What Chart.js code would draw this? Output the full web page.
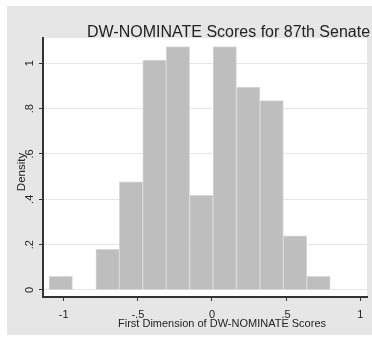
<!DOCTYPE html>
<html>
<head>
<meta charset="utf-8">
<script src="https://cdn.jsdelivr.net/npm/chart.js@4/dist/chart.umd.min.js"></script>
<style>
  html, body { margin: 0; padding: 0; background: #ffffff; }
  #wrap { position: relative; width: 372px; height: 340px; }
  #panel { position: absolute; left: 7px; top: 6px; width: 365px; height: 329px; background: #e6e6e6; }
  #c { position: absolute; left: 0; top: 0; }
</style>
</head>
<body>
<div id="wrap">
  <div id="panel"></div>
  <canvas id="c" width="372" height="340"></canvas>
</div>
<script>
// Histogram of first-dimension DW-NOMINATE scores, 87th Senate
const binCenters = [-1.020, -0.862, -0.704, -0.546, -0.388, -0.230, -0.072, 0.086, 0.244, 0.402, 0.560, 0.718];
const density    = [0.060, 0, 0.179, 0.477, 1.014, 1.074, 0.418, 1.074, 0.895, 0.835, 0.239, 0.060];

const xTickValues = [-1, -0.5, 0, 0.5, 1];
const xTickLabels = ['-1', '-.5', '0', '.5', '1'];
const yTickValues = [0, 0.2, 0.4, 0.6, 0.8, 1];
const yTickLabels = ['0', '.2', '.4', '.6', '.8', '1'];

const chartTitle = 'DW-NOMINATE Scores for 87th Senate';
const xTitle = 'First Dimension of DW-NOMINATE Scores';
const yTitle = 'Density';

const FONT = '"Liberation Sans", Arial, sans-serif';
const INK = '#222222';

// White plot region behind the bars
const plotBackground = {
  id: 'plotBackground',
  beforeDraw(chart) {
    const { ctx, chartArea: a } = chart;
    ctx.save();
    ctx.fillStyle = '#ffffff';
    ctx.fillRect(a.left, a.top, a.right - a.left, a.bottom - a.top);
    ctx.restore();
  }
};

// Graph title and axis titles
const titles = {
  id: 'titles',
  afterDraw(chart) {
    const { ctx } = chart;
    ctx.save();
    ctx.fillStyle = INK;
    ctx.textBaseline = 'alphabetic';

    ctx.font = '16px ' + FONT;
    ctx.textAlign = 'left';
    ctx.fillText(chartTitle, 87, 36.5);

    ctx.font = '11px ' + FONT;
    ctx.textAlign = 'center';
    ctx.fillText(xTitle, 222, 327);

    ctx.translate(24.5, 172);
    ctx.rotate(-Math.PI / 2);
    ctx.font = '11.5px ' + FONT;
    ctx.fillText(yTitle, 0, 0);
    ctx.restore();
  }
};

new Chart(document.getElementById('c'), {
  type: 'bar',
  data: {
    datasets: [{
      data: binCenters.map((c, i) => ({ x: c, y: density[i] })),
      backgroundColor: '#bebebe',
      borderColor: '#d8d8d8',
      borderWidth: 1,
      barPercentage: 1,
      categoryPercentage: 1
    }]
  },
  options: {
    responsive: false,
    devicePixelRatio: 1,
    animation: false,
    layout: { padding: { left: 0, top: 38, right: 5, bottom: 0 } },
    plugins: {
      legend: { display: false },
      tooltip: { enabled: false },
      title: { display: false }
    },
    scales: {
      x: {
        type: 'linear',
        offset: false,
        min: -1.1396,
        max: 1.0452,
        afterBuildTicks(scale) { scale.ticks = xTickValues.map(v => ({ value: v })); },
        afterFit(scale) { scale.height = 43; },
        grid: {
          offset: false,
          drawOnChartArea: false,
          drawTicks: true,
          tickLength: 4,
          tickColor: '#333333',
          tickWidth: 1
        },
        border: { display: true, color: '#333333', width: 2 },
        ticks: {
          color: INK,
          font: { family: FONT, size: 11 },
          padding: 7,
          maxRotation: 0,
          minRotation: 0,
          autoSkip: false,
          callback: (v, i) => xTickLabels[i]
        }
      },
      y: {
        type: 'linear',
        min: -0.0309,
        max: 1.1116,
        afterBuildTicks(scale) { scale.ticks = yTickValues.map(v => ({ value: v })); },
        afterFit(scale) { scale.width = 43; },
        grid: {
          color: '#e6e6e6',
          lineWidth: 1,
          drawTicks: true,
          tickLength: 4,
          tickColor: '#333333',
          tickWidth: 1
        },
        border: { display: true, color: '#333333', width: 2 },
        ticks: {
          color: INK,
          font: { family: FONT, size: 11 },
          padding: 4,
          crossAlign: 'center',
          minRotation: 90,
          maxRotation: 90,
          autoSkip: false,
          callback: (v, i) => yTickLabels[i]
        }
      }
    }
  },
  plugins: [plotBackground, titles]
});
</script>
</body>
</html>
